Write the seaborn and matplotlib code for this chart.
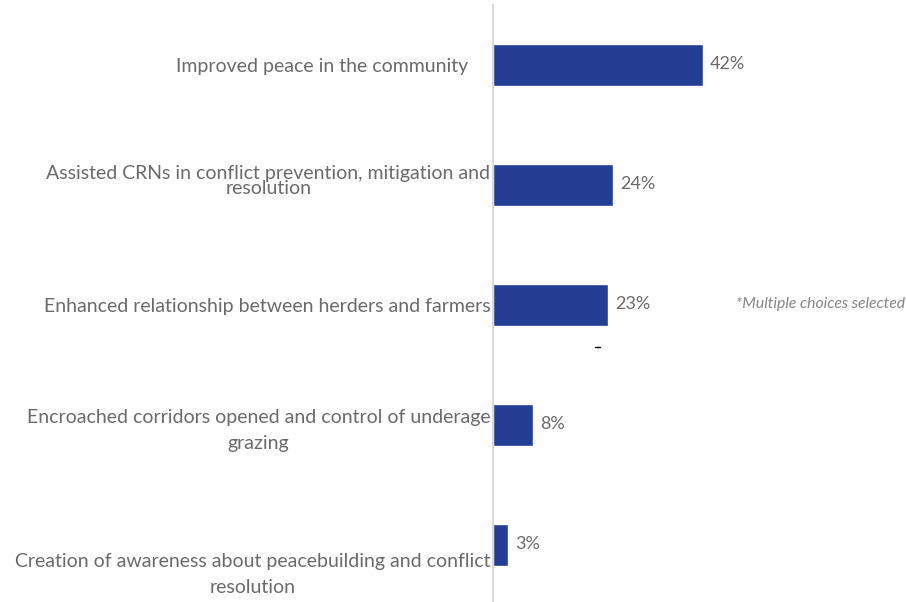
import matplotlib
matplotlib.use("Agg")
import matplotlib.pyplot as plt
import matplotlib.transforms as mtransforms
from matplotlib.lines import Line2D
import seaborn as sns
import pandas as pd

categories = [
    "Improved peace in the community",
    "Assisted CRNs in conflict prevention, mitigation and\nresolution",
    "Enhanced relationship between herders and farmers",
    "Encroached corridors opened and control of underage\ngrazing",
    "Creation of awareness about peacebuilding and conflict\nresolution",
]
values = [42, 24, 23, 8, 3]
value_labels = ["42%", "24%", "23%", "8%", "3%"]
note = "*Multiple choices selected"

sns.set_theme(style="white")
plt.rcParams["font.family"] = ["Lato", "DejaVu Sans"]

df = pd.DataFrame({"category": categories, "value": values})

fig = plt.figure(figsize=(9.06, 6.02), dpi=100)
ax = fig.add_axes([493 / 906, 0, 413 / 906, 597 / 602])
sns.barplot(data=df, y="category", x="value", color="#233e93", width=0.35,
            orient="h", ax=ax, saturation=1)
ax.set_xlim(0, 82.6)
ax.set_ylim(4.475, -0.5)
ax.set_xlabel("")
ax.set_ylabel("")
ax.set_xticks([])
for s in ["top", "right", "bottom"]:
    ax.spines[s].set_visible(False)
ax.spines["left"].set_color("#d9d9d9")
ax.spines["left"].set_linewidth(1.5)
ax.tick_params(axis="y", length=0, pad=2)

ax.set_yticks(range(len(categories)))
ax.set_yticklabels(categories, fontsize=14, color="#6a6a6a", fontweight="normal",
                   multialignment="center")
labs = ax.get_yticklabels()


def shift(lab, dx, dy):
    lab.set_transform(lab.get_transform() +
                      mtransforms.ScaledTranslation(dx / 100, dy / 100, fig.dpi_scale_trans))


labs[1].set_linespacing(0.85)
labs[3].set_linespacing(1.6)
labs[4].set_linespacing(1.6)
shift(labs[0], -22, 0)
shift(labs[1], 0, 4)
shift(labs[4], 0, -24)

for i, (v, t) in enumerate(zip(values, value_labels)):
    ax.annotate(t, xy=(v, i), xytext=(5, 1), textcoords="offset points",
                ha="left", va="center", fontsize=13, color="#6a6a6a")

fig.text(905 / 906, 1 - 304 / 602, note, ha="right", va="center", fontsize=11.3,
         color="#858585", style="italic")
fig.lines.append(Line2D([595 / 906, 600 / 906], [1 - 347 / 602, 1 - 347 / 602],
                        transform=fig.transFigure, color="black", lw=1))

fig.savefig("out.png", dpi=100)
